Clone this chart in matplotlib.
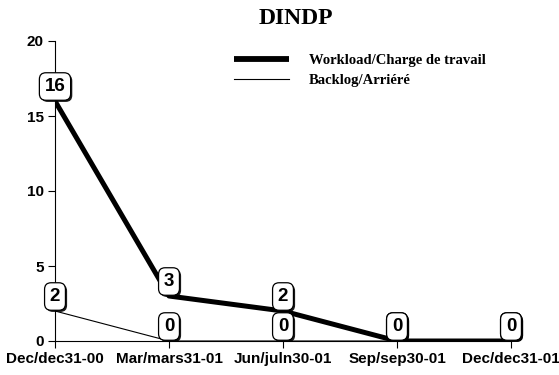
import matplotlib
matplotlib.use("Agg")
import matplotlib.pyplot as plt
import matplotlib.patheffects as pe

# quarterly counts
quarters = ["Dec/dec31-00", "Mar/mars31-01", "Jun/juln30-01", "Sep/sep30-01", "Dec/dec31-01"]
workload = [16, 3, 2, 0, 0]
backlog = [2, 0, 0, 0, 0]
yticks = [0, 5, 10, 15, 20]

sans = "Liberation Sans"
serif = "Liberation Serif"

fig = plt.figure(figsize=(5.59, 3.75), dpi=100)
ax = fig.add_axes([55 / 559, 34 / 375, (511 - 55) / 559, 300 / 375])

x = list(range(len(quarters)))
ax.plot(x, workload, color="black", lw=3.6, solid_capstyle="butt", zorder=3,
        label="Workload/Charge de travail")
ax.plot(x, backlog, color="black", lw=0.8, zorder=3, label="Backlog/Arriéré")

ax.set_xlim(0, len(quarters) - 1)
ax.set_ylim(0, 20)
ax.set_xticks(x)
ax.set_xticklabels(quarters)
ax.set_yticks(yticks)
for lab in ax.get_xticklabels() + ax.get_yticklabels():
    lab.set_fontfamily(sans)
    lab.set_fontweight("bold")
    lab.set_fontsize(11)
ax.tick_params(direction="out", length=5, width=0.8, pad=3)
ax.spines["top"].set_visible(False)
ax.spines["right"].set_visible(False)
ax.spines["left"].set_linewidth(0.8)
ax.spines["bottom"].set_linewidth(0.8)

# value boxes sitting on top of each point
def label_points(values):
    for xi, v in zip(x, values):
        t = ax.annotate(str(v), (xi, v), xytext=(0, 6), textcoords="offset pixels",
                        ha="center", va="bottom", fontsize=13.5, fontweight="bold",
                        fontfamily=sans, zorder=5, annotation_clip=False,
                        bbox=dict(boxstyle="round,pad=0.28,rounding_size=0.35",
                                  fc="white", ec="black", lw=0.9))
        t.get_bbox_patch().set_path_effects([
            pe.SimplePatchShadow(offset=(1.2, -1.2), shadow_rgbFace="black", alpha=0.9),
            pe.Normal()])

label_points(workload)
label_points(backlog)

fig.text(296 / 559, 1 - 18.5 / 375, "DINDP", ha="center", va="center",
         fontsize=17, fontweight="bold", fontfamily=serif)

leg = ax.legend(loc="upper left", bbox_to_anchor=(234 / 559, 1 - 54 / 375),
                bbox_transform=fig.transFigure, frameon=False, borderpad=0,
                borderaxespad=0, handlelength=3.8, handletextpad=1.35,
                labelspacing=0.45, prop=dict(family=serif, weight="bold", size=10.5))
leg.get_lines()[0].set_linewidth(4.2)

fig.savefig("out.png", dpi=100)
